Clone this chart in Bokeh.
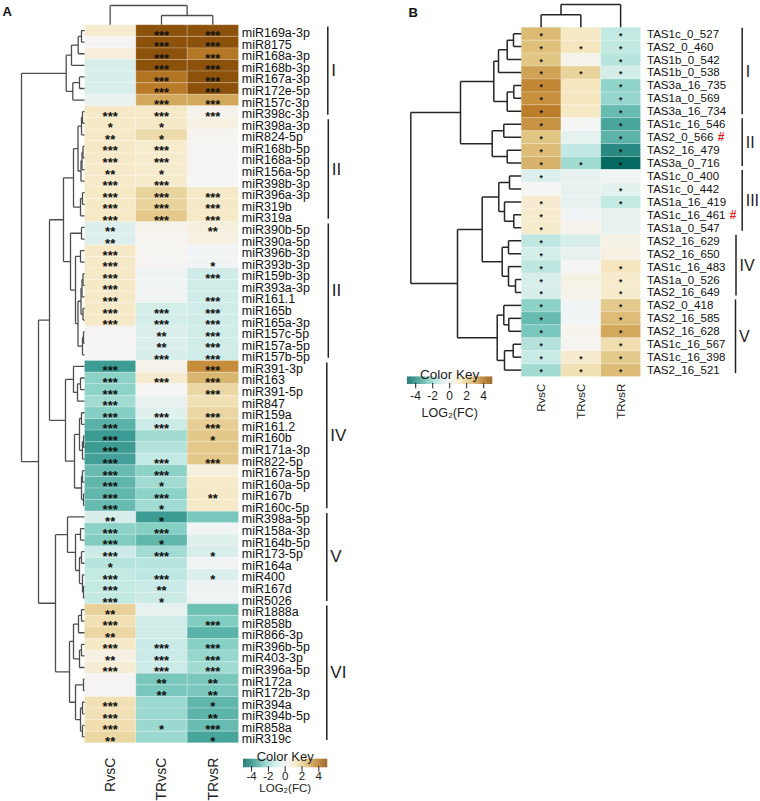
import math
import numpy as np
from bokeh.plotting import figure
from bokeh.models import Range1d, ColumnDataSource, LinearColorMapper
from bokeh.transform import transform
from bokeh.core.properties import value
from bokeh.embed import file_html
from bokeh.resources import INLINE

FONT = "Liberation Sans"

# ---------------------------------------------------------------- data
conditions = ["RvsC", "TRvsC", "TRvsR"]

mirnas = ["miR169a-3p", "miR8175", "miR168a-3p", "miR168b-3p", "miR167a-3p", "miR172e-5p", "miR157c-3p",
          "miR398c-3p", "miR398a-3p", "miR824-5p", "miR168b-5p", "miR168a-5p", "miR156a-5p", "miR398b-3p",
          "miR396a-3p", "miR319b", "miR319a",
          "miR390b-5p", "miR390a-5p", "miR396b-3p", "miR393b-3p", "miR159b-3p", "miR393a-3p", "miR161.1",
          "miR165b", "miR165a-3p", "miR157c-5p", "miR157a-5p", "miR157b-5p",
          "miR391-3p", "miR163", "miR391-5p", "miR847", "miR159a", "miR161.2", "miR160b", "miR171a-3p",
          "miR822-5p", "miR167a-5p", "miR160a-5p", "miR167b", "miR160c-5p",
          "miR398a-5p", "miR158a-3p", "miR164b-5p", "miR173-5p", "miR164a", "miR400", "miR167d", "miR5026",
          "miR1888a", "miR858b", "miR866-3p", "miR396b-5p", "miR403-3p", "miR396a-5p", "miR172a",
          "miR172b-3p", "miR394a", "miR394b-5p", "miR858a", "miR319c"]

a_rvsc = [0.95, 0.05, 0.7, -0.85, -0.8, -0.8, -0.3,
          1.1, 1.1, 1.15, 1.1, 1.1, 1.05, 1.05, 1.2, 1.2, 1.2,
          -0.7, -0.7, 1.1, 1.1, 1.1, 1.1, 1.1, 1.1, 1.1, 0.05, 0.05, 0.0,
          -3.6, -2.3, -2.3, -1.9, -2.4, -3.1, -3.6, -3.6, -3.5, -2.9, -3.0, -3.0, -2.9,
          -0.8, -2.3, -2.5, -1.1, -1.5, -1.3, -1.3, -1.3,
          2.0, 1.5, 1.8, 1.15, 0.5, 0.8, 0.05, 0.05, 1.45, 1.45, 1.6, 1.8]
a_trvsc = [5.0, 5.0, 5.0, 5.0, 4.1, 3.9, 3.0,
           1.1, 1.1, 1.65, 1.0, 1.0, 1.0, 1.0, 1.95, 1.95, 2.25,
           0.3, 0.15, 0.1, 0.05, -0.1, -0.1, -0.15, -0.9, -0.9, -0.7, -0.7, -0.8,
           0.3, 0.9, 0.0, -0.3, -0.6, -1.1, -1.9, -1.6, -1.3, -2.3, -1.9, -2.3, -1.9,
           -3.6, -2.4, -3.0, -1.9, -1.5, -1.4, -1.2, -1.1,
           -0.4, -1.0, -1.0, -1.2, -1.2, -1.1, -2.6, -2.6, -2.0, -2.0, -2.0, -2.0]
a_trvsr = [5.0, 5.0, 4.0, 5.0, 5.0, 5.0, 3.0,
           0.25, 0.5, 0.1, 0.05, 0.05, 0.05, 0.0, 1.1, 1.1, 1.1,
           0.6, 0.5, -0.1, -0.1, -1.0, -1.0, -1.0, -1.0, -1.0, -1.0, -1.0, -1.0,
           3.5, 2.7, 1.8, 1.5, 1.8, 2.1, 2.3, 2.3, 2.3, 0.6, 1.1, 1.1, 1.1,
           -2.6, -0.1, -0.6, -0.8, -0.1, -0.7, -0.2, -0.2,
           -2.8, -2.5, -3.1, -2.35, -2.1, -1.9, -2.6, -2.6, -3.0, -3.05, -2.9, -3.4]

a_sig_rvsc = ["", "", "", "", "", "", "",
              "***", "*", "**", "***", "***", "**", "***", "***", "***", "***",
              "**", "**", "***", "***", "***", "***", "***", "***", "***", "", "", "",
              "***", "***", "***", "***", "***", "***", "***", "***", "***", "***", "***", "***", "***",
              "**", "***", "***", "***", "*", "***", "***", "***",
              "**", "***", "**", "***", "**", "***", "", "", "***", "***", "***", "**"]
a_sig_trvsc = ["***", "***", "***", "***", "***", "***", "***",
               "***", "*", "*", "***", "***", "*", "***", "***", "***", "***",
               "", "", "", "", "", "", "", "***", "***", "**", "**", "***",
               "", "***", "", "", "***", "***", "", "", "***", "***", "*", "***", "*",
               "*", "***", "*", "***", "", "***", "**", "*",
               "", "", "", "***", "***", "***", "**", "**", "", "", "*", ""]
a_sig_trvsr = ["***", "***", "***", "***", "***", "***", "***",
               "***", "", "", "", "", "", "", "***", "***", "***",
               "**", "", "", "*", "***", "", "***", "***", "***", "***", "***", "***",
               "***", "***", "***", "", "***", "***", "*", "", "***", "", "", "**", "",
               "", "", "", "*", "", "*", "", "",
               "", "***", "", "***", "***", "***", "**", "**", "*", "**", "***", "*"]

a_groups = ["I", "II", "II", "IV", "V", "VI"]
a_group_first = [0, 8, 17, 29, 42, 50]
a_group_last = [7, 16, 28, 41, 49, 61]

# hierarchical clustering (merge height, left, right); leaves are row indices
a_row_tree = (63,
              (18.3, (13, (6.3, (3, 0, 1), 2), 3), (11.7, (5, 4, 5), 6)),
              (46,
               (35,
                (21,
                 (11, (6.5, (3, (2, 7, 8), 9), (3.5, (2.5, (1.5, 10, 11), 12), 13)), (4, (2, 14, 15), 16)),
                 (14, (3, 17, 18), (9, (4, 19, 20),
                                    (6.5, (3.5, (2.5, (1.5, 21, 22), 23), (1.5, 24, 25)), (2, (1, 26, 27), 28))))),
                (19, (11, 29, (7, (4, 30, 31), 32)),
                 (10, (5, (3, 33, 34), (2, (1, 35, 36), 37)), (3, (2, 38, 39), (1, 40, 41))))),
               (29,
                (17, 42, (9, (4, 43, 44), (5, (3, 45, 46), (2, 47, (1, 48, 49))))),
                (15, (11, (6, (3, 50, 51), 52), (5, (3, 53, 54), 55)),
                 (9, (1, 56, 57), (4, (2, 58, 59), (2, 60, 61)))))))
a_col_tree = (19.3, 0, (9.3, 1, 2))

tas_ids = ["TAS1c_0_527", "TAS2_0_460", "TAS1b_0_542", "TAS1b_0_538", "TAS3a_16_735", "TAS1a_0_569",
           "TAS3a_16_734", "TAS1c_16_546", "TAS2_0_566", "TAS2_16_479", "TAS3a_0_716", "TAS1c_0_400",
           "TAS1c_0_442", "TAS1a_16_419", "TAS1c_16_461", "TAS1a_0_547", "TAS2_16_629", "TAS2_16_650",
           "TAS1c_16_483", "TAS1a_0_526", "TAS2_16_649", "TAS2_0_418", "TAS2_16_585", "TAS2_16_628",
           "TAS1c_16_567", "TAS1c_16_398", "TAS2_16_521"]
tas_marked = ["TAS2_0_566", "TAS1c_16_461"]

b_rvsc = [2.65, 2.5, 2.35, 3.1, 3.6, 3.45, 3.8, 3.4, 2.4, 2.6, 2.8,
          -0.7, 0.0, 0.9, 1.0, 1.0,
          -1.4, -0.9, -1.4, -0.8, -0.8,
          -2.3, -2.9, -2.6, -1.6, -1.25, -1.9]
b_trvsc = [1.2, 1.3, 0.3, 1.95, 1.3, 1.3, 1.2, 0.0, -0.5, -1.35, -1.95,
           -0.4, -0.4, -0.4, -0.1, 0.2,
           -0.8, -0.4, 0.0, 0.4, 0.3,
           -0.1, -0.1, 0.2, 0.1, 0.9, 1.5]
b_trvsr = [-1.3, -1.3, -1.5, -0.9, -2.2, -2.1, -2.9, -3.4, -3.1, -4.1, -4.9,
           -0.1, -0.5, -1.3, -0.4, -0.4,
           0.4, 0.5, 1.3, 1.0, 1.0,
           2.2, 2.6, 3.0, 1.6, 2.2, 2.6]
b_sig_rvsc = ["*", "*", "*", "*", "*", "*", "*", "*", "*", "*", "*",
              "*", "", "*", "*", "*", "*", "*", "*", "*", "*",
              "*", "*", "*", "*", "*", "*"]
b_sig_trvsc = ["", "*", "", "*", "", "", "", "", "", "", "*",
               "", "", "", "", "", "", "", "", "", "",
               "", "", "", "", "*", "*"]
b_sig_trvsr = ["*", "*", "*", "*", "*", "*", "*", "*", "*", "*", "*",
               "", "*", "*", "", "", "", "", "*", "*", "*",
               "*", "*", "*", "*", "*", "*"]

b_groups = ["I", "II", "III", "IV", "V"]
b_group_first = [0, 7, 11, 16, 21]
b_group_last = [6, 10, 15, 20, 26]

b_row_tree = (110.4,
              (60.7,
               (27.4, (22.7, (14, (7.7, 0, 1), 2), 3), (14, (7.4, 4, 5), 6)),
               (29, (17.4, 7, 8), (14, 9, 10))),
              (63.7,
               (39,
                (22.4, (11.7, 11, 12), (16.7, 13, (7.4, 14, 15))),
                (19, (12.7, 16, 17), (12.7, 18, (5.7, 19, 20)))),
               (24, (17.4, 21, (12.4, 22, 23)), (16.7, (8, 24, 25), 26))))
b_col_tree = (22.7, (12.4, 0, 1), 2)

key_ticks = [-4, -2, 0, 2, 4]
key_low, key_high = -5, 5

# ---------------------------------------------------------------- colours
anchors = ["#01665e", "#35978f", "#80cdc1", "#c7eae5", "#f5f5f5",
           "#f6e8c3", "#dfc27d", "#bf812d", "#8c510a"]
rgb = np.array([[int(h[i:i + 2], 16) for i in (1, 3, 5)] for h in anchors], float)
apos = np.linspace(0, 1, len(anchors))
palette = ["#%02x%02x%02x" % tuple(int(round(np.interp(t, apos, rgb[:, c]))) for c in range(3))
           for t in np.linspace(0, 1, 256)]
mapper = LinearColorMapper(palette=palette, low=key_low, high=key_high)

# ---------------------------------------------------------------- figure
W, H = 760, 801
p = figure(width=W, height=H, x_range=Range1d(0, W), y_range=Range1d(H, 0),
           output_backend="svg", toolbar_location=None, x_axis_type=None, y_axis_type=None,
           min_border=0)
p.grid.visible = False
p.outline_line_color = None
p.background_fill_color = "white"


def dendro_segments(tree, leaf_pos):
    segs = []

    def rec(node):
        if isinstance(node, int):
            return leaf_pos[node], 0.0
        h, l, r = node
        pl, hl = rec(l)
        pr, hr = rec(r)
        segs.append((pl, h, pr, h))
        segs.append((pl, hl, pl, h))
        segs.append((pr, hr, pr, h))
        return (pl + pr) / 2.0, h

    rec(tree)
    return segs


def heatmap(cols, sigs, left, top, cw, rh, star_fs, star_dy):
    xs, ys, vs, ts = [], [], [], []
    for j, col in enumerate(cols):
        for i, v in enumerate(col):
            xs.append(left + (j + 0.5) * cw)
            ys.append(top + (i + 0.5) * rh)
            vs.append(v)
            ts.append(sigs[j][i])
    src = ColumnDataSource(dict(x=xs, y=ys, ys=[y + star_dy for y in ys], v=vs, t=ts))
    p.rect("x", "y", width=cw, height=rh, source=src, fill_color=transform("v", mapper),
           line_color="white", line_alpha=0.35, line_width=0.6)
    p.text("x", "ys", text="t", source=src, text_font=value(FONT), text_font_size=star_fs,
           text_font_style="bold", text_align="center", text_baseline="middle", text_color="#111111")


def row_dendro(tree, n, left, top, rh, color, lw):
    leaf = [top + (i + 0.5) * rh for i in range(n)]
    segs = dendro_segments(tree, leaf)
    p.segment([left - s[1] for s in segs], [s[0] for s in segs],
              [left - s[3] for s in segs], [s[2] for s in segs], line_color=color, line_width=lw)


def col_dendro(tree, n, left, top, cw, color, lw):
    leaf = [left + (j + 0.5) * cw for j in range(n)]
    segs = dendro_segments(tree, leaf)
    p.segment([s[0] for s in segs], [top - s[1] for s in segs],
              [s[2] for s in segs], [top - s[3] for s in segs], line_color=color, line_width=lw)


def color_key(x0, x1, ytitle, ybar, bar_h, title_fs, tick_fs, lab_fs, tick_gap, lab_y):
    n = 120
    vals = np.linspace(key_low, key_high, n)
    w = (x1 - x0) / n
    xs = [x0 + (k + 0.5) * w for k in range(n)]
    src = ColumnDataSource(dict(x=xs, v=list(vals)))
    p.rect("x", ybar + bar_h / 2, width=w * 1.15, height=bar_h, source=src,
           fill_color=transform("v", mapper), line_color=None)
    tx = [x0 + (t - key_low) / (key_high - key_low) * (x1 - x0) for t in key_ticks]
    p.segment(tx, [ybar + bar_h - 1] * len(tx), tx, [ybar + bar_h + 4.5] * len(tx),
              line_color="#222222", line_width=1)
    p.text(tx, [ybar + bar_h + tick_gap] * len(tx), text=[str(t) for t in key_ticks],
           text_font=value(FONT), text_font_size=tick_fs, text_align="center", text_baseline="top",
           text_color="#222222")
    cx = (x0 + x1) / 2
    p.text([cx], [ytitle], text=["Color Key"], text_font=value(FONT), text_font_size=title_fs,
           text_align="center", text_baseline="alphabetic", text_color="#222222")
    p.text([cx], [lab_y], text=["LOG\u2082(FC)"], text_font=value(FONT), text_font_size=lab_fs,
           text_align="center", text_baseline="top", text_color="#222222")


# ---------------------------------------------------------------- panel A
A_LEFT, A_TOP, A_CW, A_RH = 84.0, 24.3, 51.33, 11.58
nA = len(mirnas)
heatmap([a_rvsc, a_trvsc, a_trvsr], [a_sig_rvsc, a_sig_trvsc, a_sig_trvsr],
        A_LEFT, A_TOP, A_CW, A_RH, "13px", 4.5)
row_dendro(a_row_tree, nA, A_LEFT, A_TOP, A_RH, "#4d4d4d", 1.3)
col_dendro(a_col_tree, 3, A_LEFT, A_TOP, A_CW, "#4d4d4d", 1.3)

a_lab_y = [A_TOP + (i + 0.5) * A_RH + 2.5 for i in range(nA)]
p.text([A_LEFT + 3 * A_CW + 3.3] * nA, a_lab_y, text=mirnas, text_font=value(FONT),
       text_font_size="12.5px", text_align="left", text_baseline="middle", text_color="#111111")

a_bar_x = [327.3, 327.8, 327.8, 326.3, 326.3, 326.3]
gy0 = [A_TOP + (f + 0.5) * A_RH - 4 for f in a_group_first]
gy1 = [A_TOP + (l + 0.5) * A_RH + 3 for l in a_group_last]
p.segment(a_bar_x, gy0, a_bar_x, gy1, line_color="#222222", line_width=1.5)
p.text([x + 3.5 for x in a_bar_x], [(a + b) / 2 for a, b in zip(gy0, gy1)], text=a_groups,
       text_font=value(FONT), text_font_size="17px", text_align="left", text_baseline="middle",
       text_color="#222222")

a_bottom = A_TOP + nA * A_RH
p.text([A_LEFT + (j + 0.5) * A_CW for j in range(3)], [a_bottom + 15] * 3, text=conditions,
       angle=math.pi / 2, text_font=value(FONT), text_font_size="14px", text_align="right",
       text_baseline="middle", text_color="#222222")

color_key(242.7, 326.7, 755.5, 758.3, 8.4, "13px", "11.5px", "11.5px", 4.5, 781)

p.text([2], [3], text=["A"], text_font=value(FONT), text_font_size="13px", text_font_style="bold",
       text_baseline="top", text_align="left", text_color="#111111")

# ---------------------------------------------------------------- panel B
B_LEFT, B_TOP, B_CW, B_RH = 520.7, 26.7, 39.77, 12.94
nB = len(tas_ids)
heatmap([b_rvsc, b_trvsc, b_trvsr], [b_sig_rvsc, b_sig_trvsc, b_sig_trvsr],
        B_LEFT, B_TOP, B_CW, B_RH, "8.5px", 2.0)
row_dendro(b_row_tree, nB, B_LEFT, B_TOP, B_RH, "#262626", 1.5)
col_dendro(b_col_tree, 3, B_LEFT, B_TOP, B_CW, "#262626", 1.5)

B_LAB_X = B_LEFT + 3 * B_CW + 6.5
b_lab_y = [B_TOP + (i + 0.5) * B_RH for i in range(nB)]
p.text([B_LAB_X] * nB, b_lab_y, text=tas_ids, text_font=value(FONT), text_font_size="11.5px",
       text_align="left", text_baseline="middle", text_color="#111111")

# approximate advance widths (em) of Liberation Sans, to place the red marks
adv = {"T": 0.611, "A": 0.667, "S": 0.667, "c": 0.5, "a": 0.556, "b": 0.556, "_": 0.556}
def text_w(s, fs):
    return sum(adv.get(ch, 0.556) for ch in s) * fs

mk_i = [tas_ids.index(t) for t in tas_marked]
p.text([B_LAB_X + text_w(tas_ids[i], 11.5) + 3.5 for i in mk_i], [b_lab_y[i] for i in mk_i],
       text=["#"] * len(mk_i), text_font=value(FONT), text_font_size="12px", text_font_style="bold",
       text_align="left", text_baseline="middle", text_color="#e8191f")

b_bar_x = [741.7, 741.7, 741.7, 735.5, 735.0]
hy0 = [B_TOP + f * B_RH + 0.5 for f in b_group_first]
hy1 = [B_TOP + (l + 0.5) * B_RH + 3 for l in b_group_last]
p.segment(b_bar_x, hy0, b_bar_x, hy1, line_color="#222222", line_width=1.5)
p.text([x + 3.5 for x in b_bar_x], [(a + b) / 2 for a, b in zip(hy0, hy1)], text=b_groups,
       text_font=value(FONT), text_font_size="16px", text_align="left", text_baseline="middle",
       text_color="#222222")

b_bottom = B_TOP + nB * B_RH
p.text([B_LEFT + (j + 0.5) * B_CW for j in range(3)], [b_bottom + 7] * 3, text=conditions,
       angle=math.pi / 2, text_font=value(FONT), text_font_size="11.5px", text_align="right",
       text_baseline="middle", text_color="#222222")

color_key(406.7, 491.7, 373.5, 376.0, 7.4, "13.5px", "12px", "12.5px", 7.5, 405)

p.text([408], [4], text=["B"], text_font=value(FONT), text_font_size="13px", text_font_style="bold",
       text_baseline="top", text_align="left", text_color="#111111")

open("out.html", "w").write(file_html(p, INLINE))
